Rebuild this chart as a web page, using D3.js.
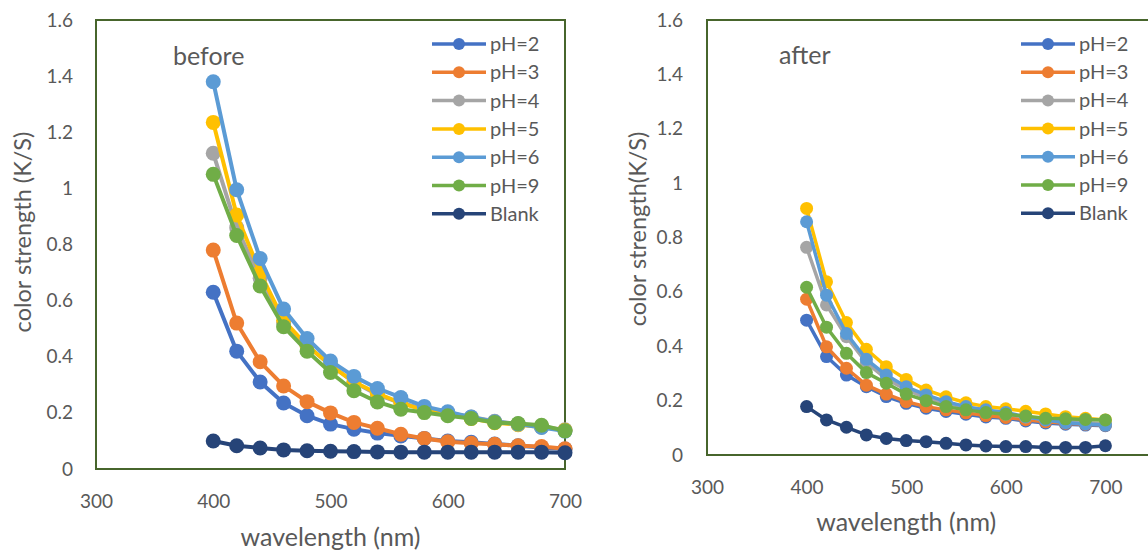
<!DOCTYPE html>
<html>
<head>
<meta charset="utf-8">
<script src="https://d3js.org/d3.v7.min.js"></script>
<style>
  body { margin: 0; background: #fff; }
  text { font-family: Lato, "Open Sans", sans-serif; fill: #595959; }
</style>
</head>
<body>
<div class="chartCanvas"></div>
<script>
//DATA
//wavelength categories (nm)
var wavelengths = [400, 420, 440, 460, 480, 500, 520, 540, 560, 580, 600, 620, 640, 660, 680, 700];
var seriesNames = ['pH=2', 'pH=3', 'pH=4', 'pH=5', 'pH=6', 'pH=9', 'Blank'];
var seriesColors = ['#4472C4', '#ED7D31', '#A5A5A5', '#FFC000', '#5B9BD5', '#70AD47', '#264478'];
var yTicks = [0, 0.2, 0.4, 0.6, 0.8, 1, 1.2, 1.4, 1.6];
var xTicks = [300, 400, 500, 600, 700];

//before dyeing
var beforePH2 = [0.63, 0.42, 0.31, 0.235, 0.19, 0.16, 0.142, 0.128, 0.118, 0.109, 0.10, 0.095, 0.089, 0.083, 0.077, 0.071];
var beforePH3 = [0.78, 0.52, 0.382, 0.296, 0.24, 0.20, 0.166, 0.145, 0.124, 0.109, 0.097, 0.092, 0.088, 0.083, 0.08, 0.072];
var beforePH4 = [1.125, 0.86, 0.68, 0.52, 0.44, 0.37, 0.31, 0.265, 0.235, 0.215, 0.20, 0.185, 0.17, 0.16, 0.15, 0.14];
var beforePH5 = [1.235, 0.905, 0.70, 0.53, 0.44, 0.37, 0.31, 0.27, 0.235, 0.21, 0.195, 0.18, 0.165, 0.158, 0.15, 0.138];
var beforePH6 = [1.38, 0.995, 0.75, 0.57, 0.465, 0.385, 0.33, 0.287, 0.255, 0.223, 0.204, 0.185, 0.168, 0.16, 0.148, 0.135];
var beforePH9 = [1.05, 0.832, 0.652, 0.507, 0.42, 0.344, 0.279, 0.239, 0.213, 0.201, 0.19, 0.18, 0.166, 0.162, 0.156, 0.136];
var beforeBlank = [0.10, 0.083, 0.075, 0.068, 0.065, 0.063, 0.062, 0.061, 0.060, 0.060, 0.060, 0.060, 0.060, 0.060, 0.060, 0.058];

//after dyeing
var afterPH2 = [0.496, 0.362, 0.294, 0.251, 0.215, 0.19, 0.172, 0.16, 0.15, 0.14, 0.135, 0.125, 0.118, 0.113, 0.11, 0.108];
var afterPH3 = [0.573, 0.398, 0.319, 0.257, 0.224, 0.196, 0.178, 0.166, 0.155, 0.145, 0.138, 0.13, 0.122, 0.117, 0.113, 0.11];
var afterPH4 = [0.764, 0.552, 0.435, 0.34, 0.28, 0.24, 0.21, 0.19, 0.175, 0.16, 0.15, 0.14, 0.13, 0.125, 0.12, 0.115];
var afterPH5 = [0.907, 0.637, 0.487, 0.389, 0.325, 0.278, 0.239, 0.214, 0.192, 0.178, 0.17, 0.161, 0.151, 0.141, 0.135, 0.129];
var afterPH6 = [0.858, 0.588, 0.447, 0.352, 0.294, 0.251, 0.221, 0.196, 0.178, 0.166, 0.156, 0.141, 0.129, 0.119, 0.114, 0.11];
var afterPH9 = [0.617, 0.47, 0.374, 0.303, 0.264, 0.224, 0.20, 0.178, 0.166, 0.156, 0.15, 0.143, 0.135, 0.133, 0.131, 0.129];
var afterBlank = [0.178, 0.129, 0.102, 0.074, 0.061, 0.053, 0.049, 0.043, 0.037, 0.033, 0.031, 0.031, 0.028, 0.028, 0.028, 0.034];

var beforeSeries = [beforePH2, beforePH3, beforePH4, beforePH5, beforePH6, beforePH9, beforeBlank];
var afterSeries = [afterPH2, afterPH3, afterPH4, afterPH5, afterPH6, afterPH9, afterBlank];

//canvas
var canvasSize = {'x' : 1148, 'y' : 552};
var svg = d3.select('.chartCanvas')
  .append('svg')
    .attr('width', canvasSize.x)
    .attr('height', canvasSize.y);

var borderColor = '#47652c';

//draw one chart panel
var drawPanel = function(cfg, series){
  var x = d3.scaleLinear().domain([300, cfg.xMax]).range([cfg.left, cfg.right]);
  var y = d3.scaleLinear().domain([0, 1.6]).range([cfg.bottom, cfg.top]);
  var g = svg.append('g');

  //plot area border
  g.append('rect')
    .attr('x', cfg.left)
    .attr('y', cfg.top)
    .attr('width', cfg.right - cfg.left)
    .attr('height', cfg.bottom - cfg.top)
    .attr('fill', 'none')
    .attr('stroke', borderColor)
    .attr('stroke-width', 2);

  //y axis labels
  var yAxis = g.append('g')
    .attr('transform', 'translate(' + cfg.yLabelX + ',0)')
    .call(d3.axisLeft(y).tickValues(yTicks).tickSize(0).tickPadding(0)
      .tickFormat(function(d){ return d3.format('~g')(d); }));
  yAxis.select('.domain').remove();
  yAxis.selectAll('text').style('font-size', '19px').attr('fill', '#595959');

  //x axis labels
  var xAxis = g.append('g')
    .attr('transform', 'translate(0,' + (cfg.bottom + cfg.xLabelGap) + ')')
    .call(d3.axisBottom(x).tickValues(xTicks).tickSize(0).tickPadding(0));
  xAxis.select('.domain').remove();
  xAxis.selectAll('text').style('font-size', '19px').attr('fill', '#595959').attr('dy', '0.35em');

  //axis titles
  g.append('text')
    .attr('x', x(500))
    .attr('y', cfg.xTitleY)
    .attr('text-anchor', 'middle')
    .attr('dy', '0.35em')
    .style('font-size', '25px')
    .text('wavelength (nm)');

  g.append('text')
    .attr('transform', 'translate(' + cfg.yTitleX + ',' + cfg.yTitleY + ') rotate(-90)')
    .attr('text-anchor', 'middle')
    .attr('dy', '0.35em')
    .style('font-size', '23.5px')
    .text(cfg.yTitle);

  //panel annotation
  g.append('text')
    .attr('x', cfg.noteX)
    .attr('y', cfg.noteY)
    .attr('dy', '0.35em')
    .style('font-size', '25px')
    .text(cfg.note);

  var line = d3.line()
    .x(function(d, i){ return x(wavelengths[i]); })
    .y(function(d){ return y(d); });

  //series lines and markers
  series.forEach(function(values, s){
    var sg = g.append('g');
    sg.append('path')
      .datum(values)
      .attr('d', line)
      .attr('fill', 'none')
      .attr('stroke', seriesColors[s])
      .attr('stroke-width', cfg.lineWidth)
      .attr('stroke-linejoin', 'round');
    sg.selectAll('circle')
      .data(values)
      .enter()
      .append('circle')
        .attr('cx', function(d, i){ return x(wavelengths[i]); })
        .attr('cy', function(d){ return y(d); })
        .attr('r', cfg.markerR)
        .attr('fill', seriesColors[s]);
  });

  //legend
  var legend = g.selectAll('.legend')
    .data(seriesNames)
    .enter()
    .append('g')
      .attr('class', 'legend')
      .attr('transform', function(d, i){ return 'translate(' + cfg.legendX + ',' + (cfg.legendY + i * cfg.legendStep) + ')'; });
  legend.append('line')
    .attr('x1', 0).attr('x2', 54)
    .attr('stroke', function(d, i){ return seriesColors[i]; })
    .attr('stroke-width', 3.5);
  legend.append('circle')
    .attr('cx', 27)
    .attr('r', 6)
    .attr('fill', function(d, i){ return seriesColors[i]; });
  legend.append('text')
    .attr('x', 58)
    .attr('dy', '0.35em')
    .style('font-size', '20px')
    .text(function(d){ return d; });
};

drawPanel({
  left: 96, right: 565, top: 20, bottom: 469, xMax: 700,
  yLabelX: 73, xLabelGap: 32, xTitleY: 537,
  yTitleX: 23, yTitleY: 232, yTitle: 'color strength (K/S)',
  noteX: 173, noteY: 56, note: 'before',
  lineWidth: 4, markerR: 7.5,
  legendX: 432, legendY: 44, legendStep: 28.3
}, beforeSeries);

//right panel axis runs on past 700 and is cut by the page edge
drawPanel({
  left: 707, right: 1205, top: 20, bottom: 455, xMax: 800,
  yLabelX: 683, xLabelGap: 32, xTitleY: 522,
  yTitleX: 638, yTitleY: 229, yTitle: 'color strength(K/S)',
  noteX: 779, noteY: 55, note: 'after',
  lineWidth: 3.5, markerR: 6.5,
  legendX: 1021, legendY: 44, legendStep: 28.2
}, afterSeries);
</script>
</body>
</html>
